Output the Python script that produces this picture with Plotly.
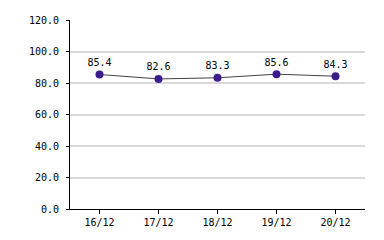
import plotly.graph_objects as go

categories = ["16/12", "17/12", "18/12", "19/12", "20/12"]
values = [85.4, 82.6, 83.3, 85.6, 84.3]
y_ticks = [0, 20, 40, 60, 80, 100, 120]
y_tick_labels = ["0.0", "20.0", "40.0", "60.0", "80.0", "100.0", "120.0"]

font_family = "DejaVu Sans Mono"

fig = go.Figure()
fig.add_trace(go.Scatter(
    x=list(range(len(categories))), y=values,
    mode="lines+markers+text",
    text=[f"{v:.1f}" for v in values],
    textposition="top center",
    textfont=dict(family=font_family, size=10, color="#000000"),
    line=dict(color="#444444", width=1),
    marker=dict(color="#3a1c8c", size=8),
    cliponaxis=False,
    hoverinfo="skip",
))

fig.update_layout(
    width=384, height=240,
    margin=dict(l=70, r=19, t=20, b=29),
    paper_bgcolor="white", plot_bgcolor="white",
    showlegend=False,
    font=dict(family=font_family, size=10, color="#000000"),
)
fig.update_xaxes(
    range=[-0.5, len(categories) - 0.5],
    tickmode="array", tickvals=list(range(len(categories))), ticktext=categories,
    showgrid=False, showline=True, linecolor="#000000", linewidth=1,
    ticks="outside", ticklen=4, tickcolor="#000000",
    zeroline=False, fixedrange=True,
)
fig.update_yaxes(
    range=[0, 120],
    tickmode="array", tickvals=y_ticks, ticktext=y_tick_labels,
    showgrid=True, gridcolor="#dadada", gridwidth=2,
    showline=True, linecolor="#000000", linewidth=1,
    ticks="outside", ticklen=3, tickcolor="#000000",
    ticklabelstandoff=5,
    zeroline=False, fixedrange=True,
)

fig.write_html("out.html")
